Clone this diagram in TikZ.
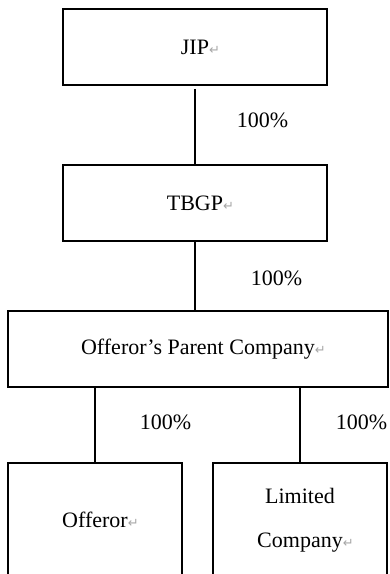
\documentclass[tikz,border=0pt]{standalone}
\usepackage{fontspec}
\setmainfont{Liberation Serif}
\newfontfamily\marksym{DejaVu Sans}
\newcommand{\pmark}{\rlap{\color{black!35}\marksym\fontsize{13}{13}\selectfont ↵}}
\begin{document}
\begin{tikzpicture}[x=1pt,y=-1pt,
    entity/.style={draw, line width=1.5pt, inner sep=0pt, minimum height=76pt, font=\fontsize{22}{44}\selectfont},
    link/.style={line width=1.5pt},
    share/.style={inner sep=0pt, anchor=west, font=\fontsize{22}{26}\selectfont}]
\useasboundingbox (0,0) rectangle (390,574);
% boxes
\node[entity, minimum width=264pt] (jip) at (195,47) {JIP\pmark};
\node[entity, minimum width=264pt] (tbgp) at (195,203) {TBGP\pmark};
\node[entity, minimum width=380pt] (parent) at (198,349) {Offeror’s Parent Company\pmark};
\node[entity, minimum width=174pt, minimum height=114pt] (offeror) at (95,520) {Offeror\pmark};
\node[entity, minimum width=174pt, minimum height=114pt, align=center] (limited) at (300,520) {Limited\\Company\pmark};
% ownership lines
\draw[link, shorten <=3pt] (jip) -- (tbgp) node[share, pos=0.44, xshift=41pt] {100\%};
\draw[link] (tbgp) -- (parent.north -| tbgp.south) node[share, pos=0.54, xshift=55pt] {100\%};
\draw[link] (parent.south -| offeror.north) -- (offeror.north) node[share, pos=0.46, xshift=44pt] {100\%};
\draw[link] (parent.south -| limited.north) -- (limited.north) node[share, pos=0.46, xshift=35pt] {100\%};
\end{tikzpicture}
\end{document}
